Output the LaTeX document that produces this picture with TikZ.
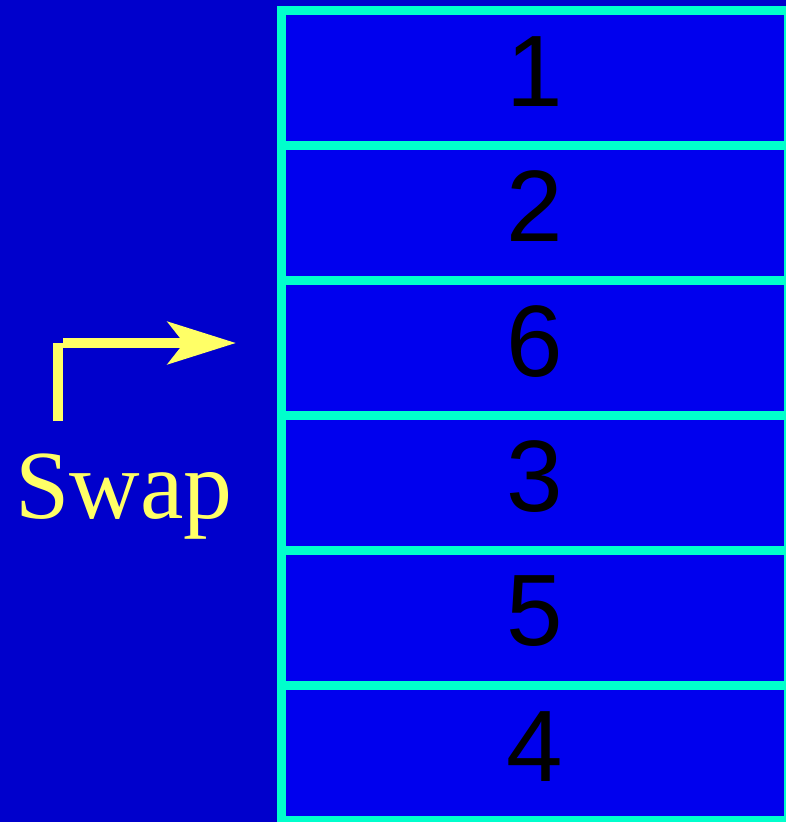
\documentclass[tikz,border=0pt]{standalone}
\usepackage{fontspec}
\setmainfont{Liberation Sans}
\newfontfamily\swapfont{Liberation Serif}
\usetikzlibrary{arrows.meta}
\definecolor{bgblue}{RGB}{0,0,204}
\definecolor{cellblue}{RGB}{0,0,238}
\definecolor{cellline}{RGB}{0,255,204}
\definecolor{swapyellow}{RGB}{255,255,102}
\tikzset{
  cell/.style={draw=cellline, fill=cellblue, line width=5.1pt,
    minimum width=10.14cm, minimum height=2.7cm, inner sep=0pt},
  num/.style={inner sep=0pt, font=\fontsize{57.8}{60}\selectfont},
  swapline/.style={draw=swapyellow, line width=6pt}
}
\begin{document}
\begin{tikzpicture}[x=0.02cm, y=-0.02cm]
        % Sfondo
        \useasboundingbox (0, 0) rectangle (786, 822);
        \fill[bgblue] (0, 0) rectangle (786, 822);

        % Celle dell'array
        \foreach \v [count=\i] in {1, 2, 6, 3, 5, 4} {
            \node[cell] (c\i) at (535, {10.5 + 135*(\i - 0.5)}) {};
            \node[num] (n\i) at ([yshift=0.13cm]c\i.center) {\v};
        }

        % Freccia di scambio
        \coordinate (sbot) at (58, 421);
        \coordinate (stop) at (58, 343);
        \coordinate (sstart) at (63, 343);
        \coordinate (send) at (236, 343);
        \draw[swapline] (sbot) -- (stop);
        \draw[swapline, -{Stealth[length=1.36cm, width=0.84cm, inset=0.32cm]}] (sstart) -- (send);

        % Etichetta
        \node[swapyellow, anchor=base, inner sep=0pt,
            font=\swapfont\fontsize{55.6}{60}\selectfont] (swap) at (124, 518) {Swap};

    \end{tikzpicture}
\end{document}
